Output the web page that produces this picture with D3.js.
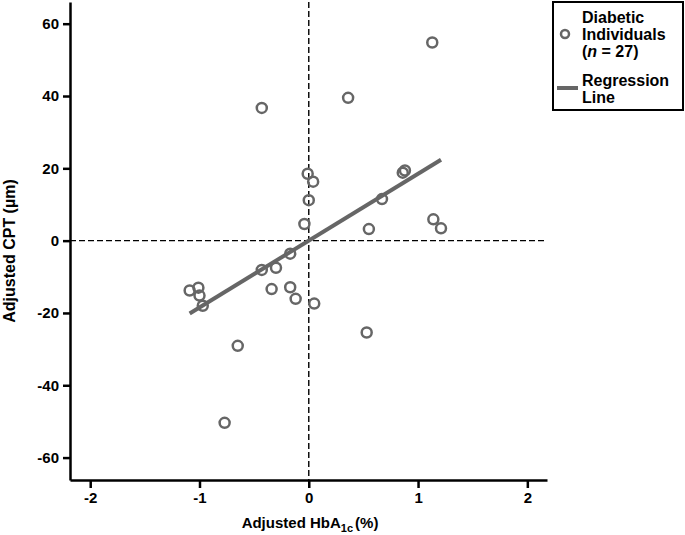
<!DOCTYPE html>
<html>
<head>
<meta charset="utf-8">
<script src="https://cdn.jsdelivr.net/npm/d3@7"></script>
<style>
    body { margin: 0; background: #fff; }
    text { font-family: "Liberation Sans", Arial, sans-serif; font-weight: bold; }
</style>
</head>
<body>
<div id="chart"></div>
<script>
const width = 685;
const height = 535;
const margin = { top: 2, right: 138, bottom: 55, left: 70 };

// adjusted HbA1c (%) and adjusted CPT (um) for each diabetic individual
const hba1c = [1.13, 0.36, -0.43, -0.01, 0.04, 0.0, -0.04, 0.67, 0.86, 0.88,
    1.14, 1.21, 0.55, -0.43, -0.30, -0.17, -0.34, -0.17, -0.12, 0.05,
    -1.09, -1.01, -1.00, -0.97, -0.65, 0.53, -0.77];
const cpt = [54.8, 39.5, 36.7, 18.5, 16.3, 11.2, 4.6, 11.5, 18.8, 19.4,
    5.9, 3.4, 3.2, -8.1, -7.5, -3.6, -13.4, -12.9, -16.1, -17.4,
    -13.8, -13.0, -15.2, -18.0, -29.1, -25.4, -50.4];

const xTicks = [-2, -1, 0, 1, 2];
const yTicks = [-60, -40, -20, 0, 20, 40, 60];
const slope = 18.5;
const intercept = 0.0;

const points = hba1c.map((d, i) => ({ x: d, y: cpt[i] }));

const svg = d3.select("#chart").append("svg")
    .attr("width", width)
    .attr("height", height);

const x = d3.scaleLinear().domain([-2.185, 2.18]).range([margin.left, width - margin.right]);
const y = d3.scaleLinear().domain([-66.2, 66]).range([height - margin.bottom, margin.top]);

const grey = "#666";
const fmt = (d) => String(d); // plain hyphen minus, like the original

// dashed reference lines at zero
svg.append("line")
    .attr("x1", x(-2.185)).attr("x2", x(2.18))
    .attr("y1", y(0)).attr("y2", y(0))
    .attr("stroke", "#000").attr("stroke-width", 1.4)
    .attr("stroke-dasharray", "6,3");
svg.append("line")
    .attr("x1", x(0)).attr("x2", x(0))
    .attr("y1", y(66)).attr("y2", y(-66.2))
    .attr("stroke", "#000").attr("stroke-width", 1.4)
    .attr("stroke-dasharray", "6,3");

// axes
const xAxisGroup = svg.append("g")
    .attr("transform", `translate(0, ${y(-66.2)})`)
    .call(d3.axisBottom(x).tickValues(xTicks).tickFormat(fmt).tickSize(8).tickPadding(4).tickSizeOuter(0));
const yAxisGroup = svg.append("g")
    .attr("transform", `translate(${x(-2.185)}, 0)`)
    .call(d3.axisLeft(y).tickValues(yTicks).tickFormat(fmt).tickSize(7).tickPadding(4).tickSizeOuter(0));

[xAxisGroup, yAxisGroup].forEach((g) => {
    g.select(".domain").attr("stroke", "#000").attr("stroke-width", 2.5);
    g.selectAll(".tick line").attr("stroke", "#000").attr("stroke-width", 2.5);
    g.selectAll(".tick text")
        .attr("fill", "#000")
        .style("font-size", "15px")
        .style("font-family", '"Liberation Sans", Arial, sans-serif')
        .style("font-weight", "bold");
});

// regression line over data range
const xr = d3.extent(hba1c);
const valueLine = d3.line().x((d) => x(d)).y((d) => y(slope * d + intercept));
svg.append("path")
    .attr("d", valueLine(xr))
    .attr("fill", "none")
    .attr("stroke", grey)
    .attr("stroke-width", 4);

// points
svg.append("g").selectAll("circle").data(points).enter()
    .append("circle")
    .attr("cx", (d) => x(d.x))
    .attr("cy", (d) => y(d.y))
    .attr("r", 5)
    .attr("fill", "none")
    .attr("stroke", grey)
    .attr("stroke-width", 2.5);

// axis titles
const xTitle = svg.append("text")
    .attr("x", 310).attr("y", 528)
    .attr("text-anchor", "middle")
    .style("font-size", "15px");
xTitle.append("tspan").text("Adjusted HbA");
xTitle.append("tspan").attr("dy", 4).style("font-size", "11px").text("1c");
xTitle.append("tspan").attr("dy", -4).attr("dx", 2).text("(%)");

svg.append("text")
    .attr("transform", "translate(15, 251) rotate(-90)")
    .attr("text-anchor", "middle")
    .style("font-size", "16px")
    .text("Adjusted CPT (\u00b5m)");

// legend
const legend = svg.append("g");
legend.append("rect")
    .attr("x", 553).attr("y", 2)
    .attr("width", 130).attr("height", 108)
    .attr("fill", "none").attr("stroke", "#000").attr("stroke-width", 2);
legend.append("circle")
    .attr("cx", 565).attr("cy", 34).attr("r", 4)
    .attr("fill", "none").attr("stroke", grey).attr("stroke-width", 2.5);
legend.append("line")
    .attr("x1", 557).attr("x2", 578).attr("y1", 88).attr("y2", 88)
    .attr("stroke", grey).attr("stroke-width", 4);
const legText = legend.append("text").attr("x", 582).attr("y", 23).style("font-size", "16px");
legText.append("tspan").attr("x", 582).text("Diabetic");
legText.append("tspan").attr("x", 582).attr("dy", 17).text("Individuals");
legText.append("tspan").attr("x", 582).attr("dy", 17).text("(");
legText.append("tspan").style("font-style", "italic").text("n");
legText.append("tspan").text(" = 27)");
legText.append("tspan").attr("x", 582).attr("dy", 29).text("Regression");
legText.append("tspan").attr("x", 582).attr("dy", 17).text("Line");
</script>
</body>
</html>
